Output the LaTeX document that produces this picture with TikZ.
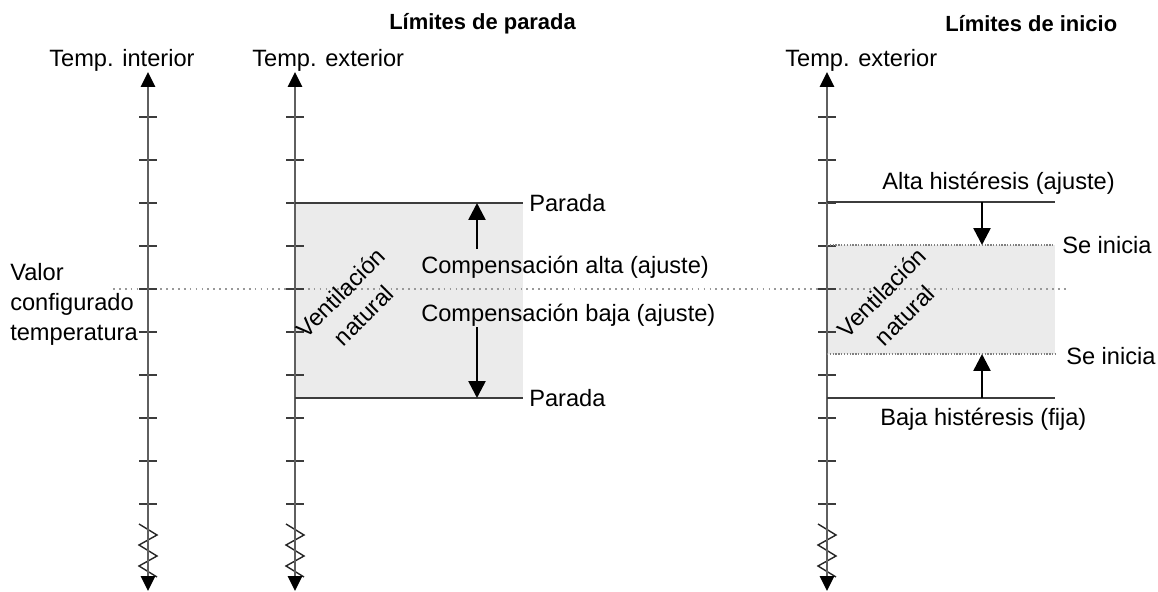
\documentclass[tikz,border=0pt]{standalone}
\usepackage{fontspec}
\setmainfont{Liberation Sans}
\usetikzlibrary{arrows.meta,positioning,calc}
\definecolor{axisgray}{RGB}{95,95,95}
\definecolor{limitgray}{RGB}{60,60,60}
\definecolor{zonefill}{RGB}{235,235,235}

\begin{document}
\begin{tikzpicture}[x=0.025cm,y=-0.025cm,
  axisline/.style={draw=axisgray,line width=1.6pt,
    {Triangle[length=10.5pt,width=10pt,color=black]}-{Triangle[length=10.5pt,width=10pt,color=black]}},
  tickmark/.style={draw=limitgray,line width=0.9pt},
  zig/.style={draw=black!85,line width=1pt},
  limit/.style={draw=limitgray,line width=1.3pt},
  startline/.style={draw=gray,line width=1pt,dash pattern=on 1pt off 1pt},
  setline/.style={draw=gray!80,line width=1pt,dash pattern=on 1.2pt off 3pt},
  adjarrow/.style={-{Triangle[length=12pt,width=12pt]},line width=1.8pt,black},
  lbl/.style={font=\fontsize{16.8pt}{21.3pt}\selectfont,inner sep=0pt},
  ttl/.style={font=\fontsize{15.6pt}{19pt}\selectfont\bfseries,inner sep=0pt},
  vent/.style={lbl,align=center,rotate=45,font=\fontsize{16.8pt}{23pt}\selectfont}
]
\useasboundingbox (0,0) rectangle (1158,592);

% Shaded zones
\fill[zonefill] (295,203) rectangle (523,398);
\fill[zonefill] (827,245) rectangle (1055,354);

% Set point of the temperature
\coordinate (setL) at (113,289);
\coordinate (setR) at (1066,289);
\draw[setline] (setL) -- (setR);

% Axes with ticks and break marks
\coordinate (inttop) at (148,72);  \coordinate (intbot) at (148,591);
\coordinate (exttop) at (295,72);  \coordinate (extbot) at (295,591);
\coordinate (initop) at (827,72);  \coordinate (inibot) at (827,591);
\foreach \x in {148,295,827} {
  \foreach \y in {117,160,...,504}
    \draw[tickmark] (\x-9,\y) -- (\x+9,\y);
  \draw[zig] (\x-9,524) -- (\x+9,535) -- (\x-9,545) -- (\x+9,556)
             -- (\x-9,566) -- (\x+9,577);
}
\draw[axisline] (inttop) -- (intbot);
\draw[axisline] (exttop) -- (extbot);
\draw[axisline] (initop) -- (inibot);

% Titles and axis labels
\node[ttl,anchor=west] (stoptitle)  at (389,24) {Límites de parada};
\node[ttl,anchor=west] (starttitle) at (945,24) {Límites de inicio};
\node[lbl,anchor=west] (intlbl)  at (49,60)  {Temp. interior};
\node[lbl,anchor=west] (extlbl)  at (252,60) {Temp. exterior};
\node[lbl,anchor=west] (inilbl)  at (785,60) {Temp. exterior};
\node[lbl,anchor=west,align=left] (setlbl) at (10,304)
  {Valor\\configurado\\temperatura};

% Stop limits
\node[lbl,anchor=west] (stophi) at (529,203) {Parada};
\node[lbl,anchor=west] (stoplo) at (529,398) {Parada};
\coordinate (stophiL) at (295,203);
\coordinate (stoploL) at (295,398);
\draw[limit,shorten >=4.3pt] (stophiL) -- (stophi.west);
\draw[limit,shorten >=4.3pt] (stoploL) -- (stoplo.west);

\node[lbl,anchor=west] (comphi) at (421,267) {Compensación alta (ajuste)};
\node[lbl,anchor=west] (complo) at (421,315) {Compensación baja (ajuste)};
\coordinate (comphiA) at (477,249);
\coordinate (comphiB) at (477,203);
\coordinate (comploA) at (477,327);
\coordinate (comploB) at (477,398);
\draw[adjarrow] (comphiA) -- (comphiB);
\draw[adjarrow] (comploA) -- (comploB);

\node[vent] (ventstop) at (352,304) {Ventilación\\natural};

% Start limits
\node[lbl,anchor=west] (hyshi) at (882,183) {Alta histéresis (ajuste)};
\node[lbl,anchor=west] (hyslo) at (880,419) {Baja histéresis (fija)};
\coordinate (hyshiL) at (827,202);
\coordinate (hyshiR) at (1055,202);
\coordinate (hysloL) at (827,398);
\coordinate (hysloR) at (1055,398);
\draw[limit] (hyshiL) -- (hyshiR);
\draw[limit] (hysloL) -- (hysloR);

\node[lbl,anchor=west] (starthi) at (1062,245) {Se inicia};
\node[lbl,anchor=west] (startlo) at (1066,356) {Se inicia};
\coordinate (starthiL) at (827,245);
\coordinate (startloL) at (827,354);
\coordinate (startloR) at (1055,354);
\draw[startline,shorten >=6pt] (starthiL) -- (starthi.west);
\draw[startline] (startloL) -- (startloR);

\coordinate (hyshiA) at (982,202);
\coordinate (hyshiB) at (982,245);
\coordinate (hysloA) at (982,398);
\coordinate (hysloB) at (982,354);
\draw[adjarrow] (hyshiA) -- (hyshiB);
\draw[adjarrow] (hysloA) -- (hysloB);

\node[vent] (ventstart) at (893,304) {Ventilación\\natural};

\end{tikzpicture}
\end{document}
